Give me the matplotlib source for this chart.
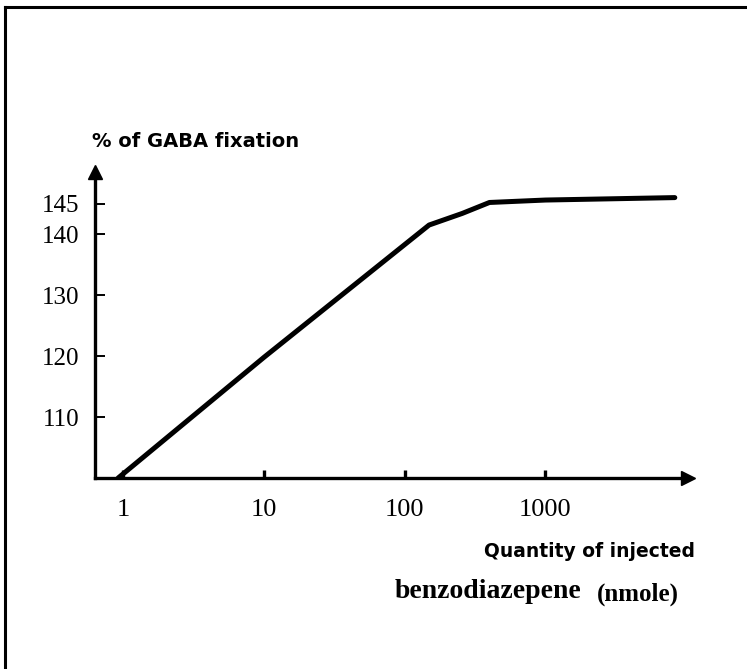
#!/usr/bin/env python3
"""
GABA fixation vs quantity of injected benzodiazepene (log dose)
"""
import matplotlib
matplotlib.use('Agg')
import matplotlib.pyplot as plt
from matplotlib.lines import Line2D

W, H = 747, 669

# values
dose = [0.92, 10, 149, 256, 400, 1000, 8300]
gaba = [100, 119.8, 141.5, 143.4, 145.2, 145.6, 146.0]

y_ticks = [110, 120, 130, 140, 145]
x_ticks = [1, 10, 100, 1000]
x_tick_labels = ['1', '10', '100', '1000']


def fx(px):
  return px / W


def fy(py):
  return 1 - py / H


def main():
  fig = plt.figure(figsize=(W / 100, H / 100), dpi=100)
  # axes box: left spine at x=95px, bottom spine at y=478px
  ax = fig.add_axes([fx(95), fy(478), fx(688 - 95), (478 - 172) / H])
  ax.set_xscale('log')
  ax.set_xlim(0.63, 10300)
  ax.set_ylim(100, 150.2)

  ax.plot(dose, gaba, color='black', lw=3.6, solid_capstyle='round',
          solid_joinstyle='round')

  for s in ['top', 'right']:
    ax.spines[s].set_visible(False)
  for s in ['left', 'bottom']:
    ax.spines[s].set_linewidth(2.4)

  # arrow heads on the axes
  ax.plot(1, 0, '>k', ms=10, transform=ax.transAxes, clip_on=False)
  ax.plot(0, 1, '^k', ms=10, transform=ax.transAxes, clip_on=False)

  ax.set_yticks(y_ticks)
  ax.set_yticklabels([str(v) for v in y_ticks], family='Liberation Serif',
                     fontsize=18)
  ax.set_xticks(x_ticks)
  ax.set_xticklabels(x_tick_labels, family='Liberation Serif', fontsize=19)
  ax.minorticks_off()
  ax.tick_params(axis='y', direction='in', length=7, width=1.4, pad=11)
  ax.tick_params(axis='x', direction='in', length=6, width=2.4, pad=15)

  fig.text(fx(92), fy(147), '% of GABA fixation', family='DejaVu Sans',
           weight='bold', fontsize=14, ha='left', va='baseline')
  fig.text(fx(590), fy(557), 'Quantity of injected', family='DejaVu Sans',
           weight='bold', fontsize=13.5, ha='center', va='baseline')
  fig.text(fx(395), fy(598), 'benzodiazepene', family='Liberation Serif',
           weight='bold', fontsize=20, ha='left', va='baseline')
  fig.text(fx(597), fy(601), '(nmole)', family='Liberation Serif',
           weight='bold', fontsize=18, ha='left', va='baseline')

  # frame lines (top and left only)
  fig.add_artist(Line2D([fx(5), 1], [fy(7), fy(7)], color='black', lw=2.2))
  fig.add_artist(Line2D([fx(5), fx(5)], [fy(7), 0], color='black', lw=2.2))

  fig.savefig('out.png', dpi=100)


if __name__ == '__main__':
  main()
